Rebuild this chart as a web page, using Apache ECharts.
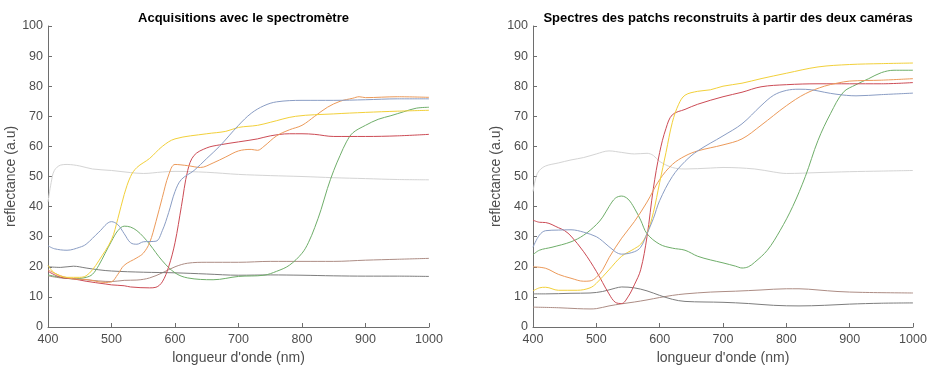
<!DOCTYPE html>
<html><head><meta charset="utf-8">
<script src="https://cdn.jsdelivr.net/npm/echarts@6/dist/echarts.min.js"></script>
<style>html,body{margin:0;padding:0;background:#fff;overflow:hidden}#c{width:928px;height:366px}</style>
</head><body><div id="c"></div>
<script>
// ---- Data (wavelength nm, reflectance) ----
const titleLeft = "Acquisitions avec le spectromètre";
const titleRight = "Spectres des patchs reconstruits à partir des deux caméras";
const xLabel = "longueur d'onde (nm)";
const yLabel = "reflectance (a.u)";

const L_lightgray = [[400,41.5],[405,48],[410,52],[420,53.8],[430,54],[450,53.5],[470,52.5],[500,52],[530,51.3],[550,51],[580,51.5],[600,51.7],[650,51.4],[700,50.7],[750,50.3],[800,50],[850,49.6],[900,49.3],[950,49],[1000,48.9]];
const L_blue = [[400,27],[410,26],[430,25.5],[450,26.5],[460,27.5],[480,31.5],[500,35],[510,34],[520,31],[530,28],[540,27.5],[550,28.3],[570,28.5],[580,32],[590,38],[600,45],[610,49],[630,52],[650,56],[670,60],[700,67],[720,71],[740,73.5],[760,74.8],[800,75.3],[850,75.3],[900,75.5],[950,75.8],[1000,75.8]];
const L_yellow = [[400,20.5],[410,18],[430,16.5],[450,16.5],[460,17],[470,19],[480,22],[500,29],[510,36],[520,44],[530,50],[540,53],[560,56],[580,60],[600,62.5],[650,64.2],[680,65],[700,66.3],[730,67],[750,68],[790,70],[850,70.8],[900,71.3],[950,71.7],[1000,72]];
const L_orange = [[400,19],[420,17],[440,16],[460,15.8],[490,14.8],[500,15],[510,17.5],[520,20.5],[540,23],[550,24.5],[560,28],[570,35],[580,43],[590,50.5],[600,54],[620,53.6],[640,53],[660,54.5],[680,56.5],[700,58.5],[720,59],[730,58.7],[740,60],[760,63.5],[780,65.5],[800,67],[820,70],[840,73],[860,75],[880,76],[890,76.5],[900,76.2],[950,76.5],[1000,76.3]];
const L_red = [[400,18.5],[420,16.5],[440,16],[460,15.2],[490,14.3],[500,14],[520,13.7],[530,13.3],[560,13],[570,13.2],[580,15],[590,20],[600,28],[610,40],[620,52],[630,57],[650,59.5],[670,60.5],[700,61.5],[730,62.5],[750,63.5],[780,64.2],[800,64.2],[820,64],[850,63.3],[900,63.3],[950,63.5],[1000,64]];
const L_green = [[400,17.3],[420,16.5],[440,16],[460,16.5],[470,17.5],[480,20.5],[490,24.5],[500,28.5],[510,32],[520,33.5],[530,33.2],[540,32],[550,30],[560,27.5],[580,22],[600,18],[620,16.3],[660,15.7],[700,16.8],[740,17.2],[760,18.5],[780,20.5],[800,24.5],[810,28],[820,33],[830,39],[840,46],[850,52],[860,57],[870,61.5],[880,64.5],[900,67],[920,69],[940,70.2],[960,71.5],[980,72.7],[1000,73]];
const L_brown = [[400,17],[420,16.3],[440,16],[460,15.7],[480,15.3],[500,15.1],[520,15.5],[540,15.6],[560,16.3],[580,18],[600,20],[620,21.2],[650,21.5],[700,21.5],[750,21.8],[800,21.8],[850,21.8],[900,22.2],[950,22.5],[1000,22.8]];
const L_darkgray = [[400,20],[420,19.8],[440,20.2],[460,19.6],[480,19],[500,18.6],[550,18.2],[600,18],[650,17.6],[700,17.2],[750,17.3],[800,17.2],[850,17],[900,16.9],[950,16.9],[1000,16.8]];

const R_lightgray = [[400,45],[405,50],[410,52],[420,53.5],[440,54.5],[460,55.5],[480,56.3],[500,57.5],[520,58.5],[540,58],[560,57.5],[580,57.7],[590,57],[600,55],[620,53],[640,52.5],[680,52.8],[700,53],[750,52.5],[780,51.5],[800,51],[850,51.3],[900,51.6],[950,51.8],[1000,52]];
const R_yellow = [[400,12],[410,13],[420,13.2],[440,12.2],[470,12.2],[490,13],[500,14.5],[520,19],[540,23.5],[560,26],[570,27.5],[580,31],[590,38],[600,48],[610,58],[620,68],[630,74],[640,77],[660,78.3],[680,78.8],[700,80],[730,81],[760,82.5],[800,84.3],[850,86.4],[900,87.2],[950,87.5],[1000,87.7]];
const R_red = [[400,35.5],[410,34.8],[420,34.7],[440,33],[450,32],[460,30.2],[480,25],[500,18.5],[520,11],[530,8.2],[540,7.8],[550,10],[560,14],[570,19],[580,30],[590,46],[600,58],[610,66],[620,70.5],[640,72.3],[660,74],[700,76.5],[730,78],[760,79.8],[800,80.5],[850,80.8],[900,80.8],[950,80.8],[1000,81.2]];
const R_blue = [[400,26.5],[410,30.5],[420,32],[440,32.2],[460,32.3],[480,31.5],[500,30],[510,28.5],[530,25],[540,24.2],[560,25],[570,26.5],[580,31],[590,36],[600,42],[620,50],[640,55],[660,58.5],[700,63.5],[730,67.5],[760,73.5],[780,77],[800,78.6],[820,79],[840,78.8],[860,78],[880,77.3],[910,76.8],[950,77.2],[1000,77.7]];
const R_orange = [[400,20],[420,19.5],[440,17.5],[460,16.2],[480,15.2],[490,15.3],[500,16.5],[510,19],[520,23],[540,29.5],[560,35],[580,41.5],[600,49],[620,54],[640,56.8],[660,58.5],[700,60.5],[730,62.5],[760,67],[800,73.5],[830,77.5],[860,80],[880,81],[900,81.7],[950,82],[1000,82.5]];
const R_green = [[400,24],[410,25.5],[430,26.5],[460,28.3],[480,30.5],[500,34],[510,36.5],[520,40],[530,42.8],[540,43.5],[550,42.5],[560,39.5],[570,35.5],[580,31],[600,27.5],[620,26.2],[640,25.5],[660,23.5],[680,22.3],[700,21.3],[720,20.2],[730,19.6],[740,20],[750,21.5],[770,25.5],[790,32],[810,40],[830,50],[850,62],[870,71],[890,78],[910,80.5],[930,82.5],[950,84.5],[970,85.3],[1000,85.3]];
const R_darkgray = [[400,11],[420,11],[460,11.2],[490,11.3],[510,11.8],[530,12.9],[540,13.3],[560,13],[580,12],[600,10.5],[620,9.2],[640,8.5],[700,8.2],[740,7.8],[780,7.2],[820,7],[860,7.2],[900,7.6],[950,7.9],[1000,8]];
const R_brown = [[400,6.6],[440,6.4],[470,6.1],[490,6],[500,6.1],[520,7],[540,7.7],[560,8.3],[580,9],[600,9.8],[620,10.5],[640,11],[680,11.6],[720,11.9],[760,12.3],[800,12.7],[820,12.7],[850,12.3],[880,11.8],[920,11.5],[1000,11.3]];

const xTicks = [400,500,600,700,800,900,1000];
const yTicks = [0,10,20,30,40,50,60,70,80,90,100];

const C = {lightgray:'#d4d4d4', blue:'#8a9dc4', yellow:'#f2d03a', orange:'#ec9a5a', red:'#cc4b55', green:'#6fae6a', brown:'#ad8d85', darkgray:'#7d7d7d'};
const leftSet = [['lightgray',L_lightgray],['brown',L_brown],['darkgray',L_darkgray],['green',L_green],['red',L_red],['orange',L_orange],['yellow',L_yellow],['blue',L_blue]];
const rightSet = [['lightgray',R_lightgray],['brown',R_brown],['darkgray',R_darkgray],['green',R_green],['red',R_red],['orange',R_orange],['yellow',R_yellow],['blue',R_blue]];

const font = 'Liberation Sans, Arial, sans-serif';
function xAxis(idx){return {gridIndex:idx,type:'value',min:xTicks[0],max:xTicks[xTicks.length-1],interval:100,
  name:xLabel,nameLocation:'middle',nameGap:23,nameTextStyle:{color:'#4d4d4d',fontSize:14,fontFamily:font},
  axisLine:{lineStyle:{color:'#6e6e6e',width:1}},axisTick:{inside:true,length:4,lineStyle:{color:'#6e6e6e'}},
  axisLabel:{color:'#4d4d4d',fontSize:12.5,fontFamily:font,margin:6,showMinLabel:true,showMaxLabel:true,formatter:v=>String(v)},splitLine:{show:false}};}
function yAxis(idx){return {gridIndex:idx,type:'value',min:yTicks[0],max:yTicks[yTicks.length-1],interval:10,
  name:yLabel,nameLocation:'middle',nameGap:idx===0?23:25,nameTextStyle:{color:'#4d4d4d',fontSize:14,fontFamily:font},
  axisLine:{show:true,lineStyle:{color:'#6e6e6e',width:1}},axisTick:{show:true,inside:true,length:4,lineStyle:{color:'#6e6e6e'}},
  axisLabel:{color:'#4d4d4d',fontSize:12.5,fontFamily:font,margin:5,formatter:v=>String(v)},splitLine:{show:false}};}
const series=[];
leftSet.forEach(([k,d])=>series.push({type:'line',xAxisIndex:0,yAxisIndex:0,data:d,smooth:0.35,showSymbol:false,lineStyle:{color:C[k],width:1},itemStyle:{color:C[k]},silent:true}));
rightSet.forEach(([k,d])=>series.push({type:'line',xAxisIndex:1,yAxisIndex:1,data:d,smooth:0.35,showSymbol:false,lineStyle:{color:C[k],width:1},itemStyle:{color:C[k]},silent:true}));

const chart = echarts.init(document.getElementById('c'),null,{renderer:'canvas',width:928,height:366});
chart.setOption({
  animation:false,backgroundColor:'#fff',
  title:[
    {text:titleLeft,left:238.5,textAlign:'center',top:7,textStyle:{fontSize:13,fontWeight:'bold',color:'#000',fontFamily:font}},
    {text:titleRight,left:723,textAlign:'center',top:7,textStyle:{fontSize:13,fontWeight:'bold',color:'#000',fontFamily:font}}
  ],
  grid:[{left:48,right:499,top:26,bottom:39,containLabel:false,outerBoundsMode:'none'},{left:533,right:15,top:26,bottom:39,containLabel:false,outerBoundsMode:'none'}],
  xAxis:[xAxis(0),xAxis(1)],
  yAxis:[yAxis(0),yAxis(1)],
  series
});
</script></body></html>
